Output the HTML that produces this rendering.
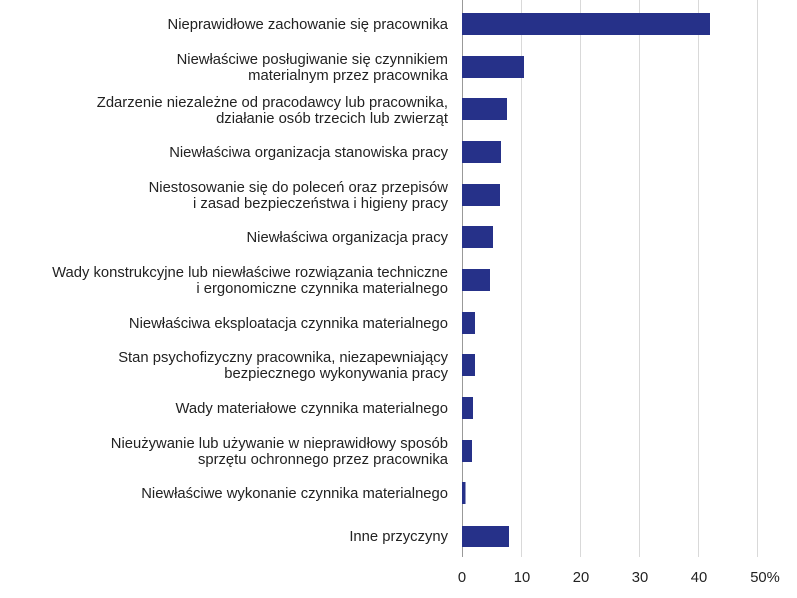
<!DOCTYPE html>
<html><head><meta charset="utf-8"><style>body{margin:0;background:#fff}svg{display:block}text{font-family:"Liberation Sans","DejaVu Sans",sans-serif;font-size:14.8px;fill:#222}</style></head><body>
<svg width="797" height="598" xmlns="http://www.w3.org/2000/svg">
<g stroke="#d9d9d9" stroke-width="1">
<line x1="521.5" y1="0" x2="521.5" y2="557"/><line x1="580.5" y1="0" x2="580.5" y2="557"/><line x1="639.5" y1="0" x2="639.5" y2="557"/><line x1="698.5" y1="0" x2="698.5" y2="557"/><line x1="757.5" y1="0" x2="757.5" y2="557"/>
</g>
<line x1="462.5" y1="0" x2="462.5" y2="557" stroke="#999"/>
<g fill="#263189">
<rect x="462" y="13" width="248" height="22"/>
<rect x="462" y="56" width="62" height="22"/>
<rect x="462" y="98" width="45" height="22"/>
<rect x="462" y="141" width="39" height="22"/>
<rect x="462" y="184" width="38" height="22"/>
<rect x="462" y="226" width="31" height="22"/>
<rect x="462" y="269" width="28" height="22"/>
<rect x="462" y="312" width="13" height="22"/>
<rect x="462" y="354" width="13" height="22"/>
<rect x="462" y="397" width="11" height="22"/>
<rect x="462" y="440" width="10" height="22"/>
<rect x="462" y="482" width="3.5" height="22"/>
<rect x="462" y="526" width="47" height="21"/>
</g>
<g text-anchor="end">
<text x="448" y="29">Nieprawidłowe zachowanie się pracownika</text>
<text x="448" y="64">Niewłaściwe posługiwanie się czynnikiem</text><text x="448" y="80">materialnym przez pracownika</text>
<text x="448" y="107">Zdarzenie niezależne od pracodawcy lub pracownika,</text><text x="448" y="123">działanie osób trzecich lub zwierząt</text>
<text x="448" y="157">Niewłaściwa organizacja stanowiska pracy</text>
<text x="448" y="192">Niestosowanie się do poleceń oraz przepisów</text><text x="448" y="208">i zasad bezpieczeństwa i higieny pracy</text>
<text x="448" y="242">Niewłaściwa organizacja pracy</text>
<text x="448" y="277">Wady konstrukcyjne lub niewłaściwe rozwiązania techniczne</text><text x="448" y="293">i ergonomiczne czynnika materialnego</text>
<text x="448" y="328">Niewłaściwa eksploatacja czynnika materialnego</text>
<text x="448" y="362">Stan psychofizyczny pracownika, niezapewniający</text><text x="448" y="378">bezpiecznego wykonywania pracy</text>
<text x="448" y="413">Wady materiałowe czynnika materialnego</text>
<text x="448" y="448">Nieużywanie lub używanie w nieprawidłowy sposób</text><text x="448" y="464">sprzętu ochronnego przez pracownika</text>
<text x="448" y="498">Niewłaściwe wykonanie czynnika materialnego</text>
<text x="448" y="541">Inne przyczyny</text>
</g>
<g text-anchor="middle">
<text x="462" y="582">0</text><text x="522" y="582">10</text><text x="581" y="582">20</text><text x="640" y="582">30</text><text x="699" y="582">40</text><text x="765" y="582">50%</text>
</g>
</svg>
</body></html>
